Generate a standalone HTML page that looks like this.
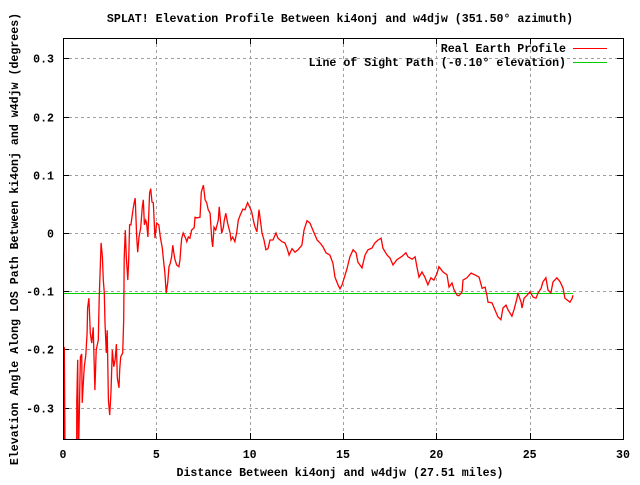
<!DOCTYPE html>
<html><head><meta charset="utf-8"><style>
html,body{margin:0;padding:0;background:#fff;}
svg text{font-family:"Liberation Mono",monospace;font-size:11.6px;font-weight:bold;fill:#000;}
</style></head><body>
<svg id="chart" width="640" height="480" viewBox="0 0 640 480" xmlns="http://www.w3.org/2000/svg">
<text x="340" y="22" text-anchor="middle">SPLAT! Elevation Profile Between ki4onj and w4djw (351.50° azimuth)</text>
<text x="340" y="476" text-anchor="middle">Distance Between ki4onj and w4djw (27.51 miles)</text>
<text transform="translate(18,239) rotate(-90)" text-anchor="middle">Elevation Angle Along LOS Path Between ki4onj and w4djw (degrees)</text>
<g id="grid" shape-rendering="crispEdges"></g>
<g id="ticks"></g>
<defs><clipPath id="pc"><rect x="63" y="38" width="560" height="401"/></clipPath></defs>
<g id="series" clip-path="url(#pc)"></g>
<rect x="63.5" y="38.5" width="560" height="401" fill="none" stroke="#000" stroke-width="1" shape-rendering="crispEdges"/>
<g shape-rendering="crispEdges">
<text x="566" y="52" text-anchor="end">Real Earth Profile</text>
<line x1="573" y1="48.5" x2="607" y2="48.5" stroke="#f00" stroke-width="1"/>
<text x="566" y="66" text-anchor="end">Line of Sight Path (-0.10° elevation)</text>
<line x1="573" y1="62.5" x2="607" y2="62.5" stroke="#00d000" stroke-width="1"/>
</g>
</svg>
<script>
const xTicks=[0,5,10,15,20,25,30];
const yTicks=[-0.3,-0.2,-0.1,0,0.1,0.2,0.3];
const yTickLabels=["-0.3","-0.2","-0.1","0","0.1","0.2","0.3"];
const losValue=-0.104;
const miles=[0.02,0.03,0.07,0.11,0.73,0.74,0.79,0.82,0.93,1.00,1.03,1.09,1.14,1.22,1.29,1.32,1.39,1.46,1.54,1.62,1.71,1.78,1.89,1.94,2.04,2.11,2.16,2.21,2.25,2.32,2.37,2.43,2.50,2.57,2.64,2.72,2.79,2.86,2.91,3.00,3.04,3.09,3.20,3.25,3.28,3.34,3.39,3.47,3.52,3.57,3.64,3.75,3.82,3.87,3.95,4.00,4.07,4.16,4.25,4.30,4.36,4.43,4.48,4.55,4.64,4.70,4.77,4.84,4.93,5.02,5.13,5.21,5.32,5.41,5.46,5.53,5.61,5.68,5.75,5.82,5.88,5.93,6.00,6.09,6.21,6.27,6.31,6.36,6.44,6.57,6.63,6.71,6.80,6.89,7.03,7.07,7.19,7.34,7.41,7.52,7.61,7.70,7.78,7.88,7.97,8.02,8.09,8.18,8.32,8.37,8.45,8.50,8.59,8.64,8.72,8.82,8.95,9.00,9.09,9.21,9.31,9.39,9.50,9.63,9.75,9.89,10.02,10.11,10.23,10.29,10.39,10.50,10.66,10.77,10.87,10.98,11.09,11.25,11.41,11.52,11.73,11.89,12.00,12.11,12.27,12.43,12.59,12.80,12.91,13.07,13.23,13.39,13.61,13.77,13.93,14.09,14.30,14.46,14.57,14.73,14.84,14.95,15.11,15.21,15.37,15.54,15.70,15.80,16.02,16.18,16.34,16.55,16.71,16.88,17.04,17.14,17.36,17.52,17.68,17.89,18.16,18.37,18.48,18.70,18.86,18.96,19.07,19.23,19.39,19.55,19.71,19.87,20.04,20.14,20.36,20.57,20.68,20.84,20.95,21.11,21.21,21.38,21.43,21.64,21.86,22.07,22.29,22.45,22.61,22.71,22.77,22.98,23.14,23.30,23.46,23.57,23.73,23.84,24.05,24.16,24.32,24.37,24.54,24.59,24.70,24.86,25.02,25.18,25.34,25.45,25.61,25.71,25.87,25.98,26.14,26.25,26.46,26.63,26.79,26.89,27.00,27.16,27.27,27.32];
const elevation=[-0.031,-0.40,-0.196,-0.40,-0.40,-0.287,-0.218,-0.40,-0.213,-0.208,-0.292,-0.258,-0.230,-0.210,-0.172,-0.129,-0.112,-0.172,-0.189,-0.162,-0.270,-0.201,-0.184,-0.112,-0.017,-0.041,-0.081,-0.103,-0.155,-0.206,-0.167,-0.287,-0.313,-0.273,-0.201,-0.230,-0.218,-0.191,-0.249,-0.266,-0.235,-0.213,-0.206,-0.149,-0.043,0.005,-0.041,-0.081,-0.046,0.014,0.014,0.040,0.053,0.060,-0.007,-0.033,-0.007,0.009,0.045,0.057,0.014,0.022,0.017,-0.007,0.069,0.076,0.053,0.052,-0.009,0.017,0.014,-0.007,-0.026,-0.055,-0.069,-0.103,-0.086,-0.058,-0.052,-0.041,-0.021,-0.033,-0.046,-0.055,-0.058,-0.046,-0.026,-0.009,0.000,-0.009,-0.015,-0.007,-0.009,0.005,0.009,0.027,0.026,0.027,0.070,0.082,0.057,0.052,0.040,0.034,-0.012,-0.024,0.010,0.005,0.022,0.045,0.017,0.000,0.009,0.022,0.034,0.017,0.000,-0.012,-0.007,-0.015,0.002,0.022,0.031,0.041,0.040,0.052,0.043,0.036,0.017,0.010,0.002,0.040,0.000,-0.012,-0.029,-0.027,-0.012,-0.012,0.000,-0.009,-0.015,-0.017,-0.026,-0.038,-0.027,-0.033,-0.029,-0.021,0.005,0.021,0.017,0.005,-0.012,-0.017,-0.024,-0.034,-0.038,-0.052,-0.076,-0.089,-0.096,-0.089,-0.072,-0.062,-0.041,-0.029,-0.034,-0.050,-0.060,-0.038,-0.029,-0.026,-0.017,-0.012,-0.009,-0.026,-0.038,-0.043,-0.055,-0.046,-0.040,-0.034,-0.041,-0.045,-0.041,-0.058,-0.076,-0.067,-0.076,-0.089,-0.077,-0.081,-0.069,-0.058,-0.067,-0.072,-0.093,-0.086,-0.098,-0.107,-0.108,-0.101,-0.081,-0.077,-0.069,-0.072,-0.076,-0.095,-0.093,-0.107,-0.119,-0.120,-0.132,-0.144,-0.149,-0.129,-0.124,-0.132,-0.143,-0.132,-0.112,-0.103,-0.119,-0.129,-0.112,-0.107,-0.101,-0.110,-0.112,-0.103,-0.095,-0.084,-0.077,-0.098,-0.103,-0.084,-0.077,-0.084,-0.095,-0.112,-0.115,-0.119,-0.113,-0.107];

const NS="http://www.w3.org/2000/svg";
const X0=63,X1=623,Y0=38,Y1=439,xmin=0,xmax=30,ymin=-0.354,ymax=0.335;
function sx(v){return X0+(v-xmin)/(xmax-xmin)*(X1-X0);}
function sy(v){return Y1-(v-ymin)/(ymax-ymin)*(Y1-Y0);}
function mk(tag,attrs,parent){const e=document.createElementNS(NS,tag);for(const k in attrs)e.setAttribute(k,attrs[k]);parent.appendChild(e);return e;}
const grid=document.getElementById('grid'),ticks=document.getElementById('ticks'),series=document.getElementById('series');
xTicks.forEach((t,i)=>{
  const x=Math.round(sx(t))+0.5;
  if(i>0&&i<xTicks.length-1){const g=mk('line',{x1:x,y1:Y0,x2:x,y2:Y1,stroke:'#a0a0a0','stroke-dasharray':'3,3'},grid);
  
  }
  mk('line',{x1:x,y1:Y1,x2:x,y2:Y1-6,stroke:'#000'},ticks);
  mk('line',{x1:x,y1:Y0,x2:x,y2:Y0+6,stroke:'#000'},ticks);
  const tx=mk('text',{x:sx(t),y:458,'text-anchor':'middle'},ticks);tx.textContent=String(t);
  
  
});
yTicks.forEach((t,i)=>{
  const y=Math.round(sy(t))+0.5;
  const g=mk('line',{x1:X0,y1:y,x2:X1,y2:y,stroke:'#a0a0a0','stroke-dasharray':'3,3'},grid);
  
  
  mk('line',{x1:X0,y1:y,x2:X0+6,y2:y,stroke:'#000'},ticks);
  mk('line',{x1:X1,y1:y,x2:X1-6,y2:y,stroke:'#000'},ticks);
  const tx=mk('text',{x:54,y:y+4,'text-anchor':'end'},ticks);tx.textContent=yTickLabels[i];
  
  
});
const ly=Math.round(sy(losValue))+0.5;
const los=mk('line',{x1:sx(0),y1:ly,x2:sx(miles[miles.length-1]),y2:ly,stroke:'#00d000','stroke-width':1,'shape-rendering':'crispEdges'},series);


const pts=miles.map((m,i)=>sx(m).toFixed(1)+','+sy(elevation[i]).toFixed(1)).join(' ');
const pl=mk('polyline',{points:pts,fill:'none',stroke:'#f00','stroke-width':1.3},series);


</script>
</body></html>
